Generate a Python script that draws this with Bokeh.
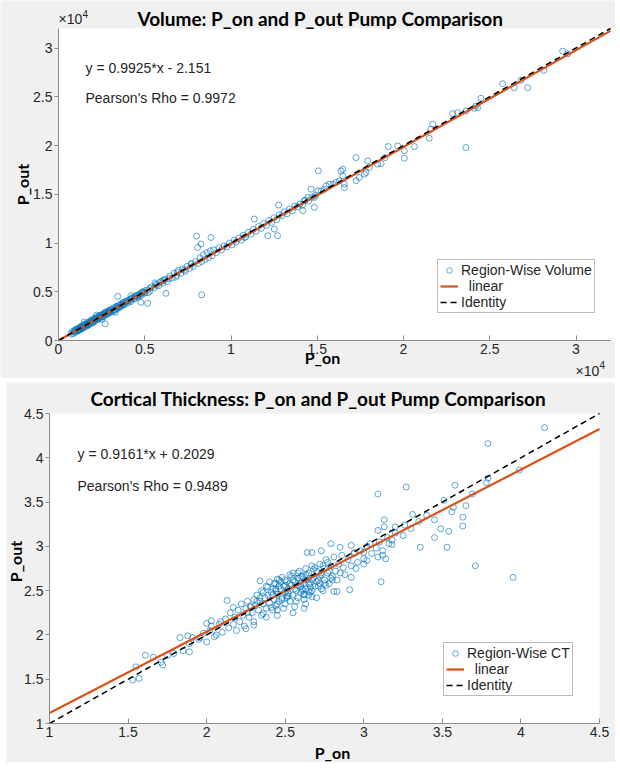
from bokeh.plotting import figure
from bokeh.models import Range1d, FixedTicker, Label, Legend, LegendItem, BoxAnnotation, Spacer
from bokeh.layouts import column, row
from bokeh.embed import file_html
from bokeh.resources import INLINE

# ---------------- Volume data (P_on vs P_out) ----------------
vol_on_a = [720, 780, 850, 900, 950, 1000, 1050, 1100, 1150, 1200, 1200, 1250, 1300, 1300, 1350, 1400, 1450, 1500, 1500, 1550,
            1600, 1600, 1650, 1700, 1750, 1750, 1800, 1850, 1900, 1950, 2000, 2000, 2050, 2100, 2100, 2150, 2200, 2200, 2250, 2300,
            2300, 2350, 2400, 2400, 2450, 2500, 2500, 2550, 2600, 2600, 2650, 2700, 2700, 2750, 2800, 2850, 2900, 2900, 2950, 3000, 3000]
vol_out_a = [650, 900, 700, 1000, 850, 1150, 900, 1200, 1000, 1300, 1100, 1100, 1450, 1250, 1200, 1350, 1600, 1350, 1900, 1700,
             1450, 1650, 1500, 1850, 1600, 1750, 1900, 1700, 2100, 1800, 2050, 1850, 2250, 1950, 2150, 2300, 2100, 2600, 2450, 2200,
             2350, 2500, 2250, 2450, 2600, 2400, 2150, 2700, 2450, 2650, 2800, 2600, 2800, 2950, 2700, 3000, 2750, 2950, 3100, 2900, 3050]

vol_on_b = [3100, 3150, 3200, 3200, 3300, 3300, 3350, 3400, 3400, 3500, 3550, 3600, 3600, 3700, 3750, 3800, 3800, 3900, 4000, 4000,
            4100, 4200, 4200, 4200, 4300, 4400, 4400, 4500, 4600, 4600, 4700, 4800, 4800, 4900, 5000, 5000, 5150, 5200, 5300, 5400,
            5550, 5600, 5650, 5800, 5900, 6050, 6100, 6200, 6300, 6450, 6600, 6700, 6800, 6850, 6950, 7100, 7200, 7350, 7450, 7600,
            7700, 7800, 7950]
vol_out_b = [3200, 2950, 3350, 3100, 3150, 2900, 3500, 3250, 3450, 3600, 3400, 3750, 3500, 3600, 3900, 3650, 3900, 4000, 3850, 4050,
             4200, 4000, 4250, 4600, 4400, 4250, 4450, 4600, 4450, 4600, 4750, 4650, 4850, 5000, 4850, 5100, 5200, 4900, 5050, 5500,
             5400, 5900, 5750, 5600, 6000, 5900, 6200, 6300, 6050, 6600, 6400, 6900, 6500, 6700, 7200, 6900, 7350, 7100, 7600, 7400,
             7900, 7600, 8100]

vol_on_c = [8100, 8200, 8300, 8400, 8500, 8600, 8700, 8800, 8900, 9000, 9150, 9300, 9450, 9600, 9750, 9900, 10050, 10200, 10300, 10450,
            10600, 10700, 10850, 11000, 11150, 11300, 11450, 11600, 11750, 11900, 12050, 12200, 12350, 12500, 12650, 12800, 12950,
            13100, 13250, 13400, 13550, 13700, 13850, 14000, 14150, 14300, 14500, 14700, 14900]
vol_out_c = [7900, 8500, 8100, 8800, 8300, 9000, 8500, 9200, 8700, 9300, 9000, 9500, 9300, 9700, 9600, 10000, 9800, 10300, 10100, 10500,
             10300, 10800, 10600, 11100, 10900, 11400, 11200, 11700, 11500, 12000, 11800, 12300, 12100, 12600, 12400, 12900, 12800,
             13200, 13000, 13500, 13300, 13800, 13700, 14000, 13900, 14400, 14300, 14700, 14900]

vol_on_d = [8000, 8840, 8300, 6230, 3430, 4780, 5170, 2710, 15060, 12760, 11350, 12510, 12700, 12130, 10770, 8070, 8260, 14830, 14830, 14250,
            23620, 22850, 23140, 23620, 24100, 24200, 21690, 21590, 21490, 20630, 20050, 20050, 19660, 19120, 18930, 18700, 18500,
            17920, 18020, 17830, 17730, 17250, 17250, 17440, 16380, 16480, 16480, 16570, 16570, 16280, 16090, 15900, 15700, 15510,
            15410, 15220, 15030, 14640, 14450, 14160, 29230, 29520, 28130, 27200, 26420, 25750, 26810, 24490, 24300]
vol_out_d = [10700, 10570, 4680, 4840, 4530, 3920, 3820, 1710, 17400, 13890, 12460, 11430, 10750, 10750, 10570, 9550, 9900, 14670, 13650, 14330,
             19790, 23270, 23370, 23540, 23820, 24050, 22180, 21670, 20750, 19890, 19450, 18700, 19960, 19890, 18760, 18150, 18090,
             18420, 17740, 17230, 17060, 18760, 16380, 16710, 17400, 17570, 16890, 16040, 15690, 16380, 16210, 16040, 16040, 15870,
             15520, 15350, 15350, 15520, 14670, 13310, 29680, 29410, 27710, 25930, 25930, 26340, 26680, 24840, 23880]

vol_on_e = [1100, 1250, 1400, 1550, 1700, 1850, 2000, 2150, 2300, 2450, 2600, 2750, 2900, 3050, 3200, 3350, 3500, 3650, 3800, 3950,
            4100, 4250, 4400, 4550, 4700, 4850, 5000, 5300, 5700, 6000, 6400, 6900, 7300, 7700, 900, 1000, 1150, 1350, 1650, 1950]
vol_out_e = [1050, 1350, 1300, 1600, 1650, 1950, 1900, 2200, 2250, 2550, 2500, 2800, 2850, 3150, 3100, 3450, 3400, 3700, 3750, 4050,
             4000, 4350, 4300, 4650, 4600, 4950, 4900, 5350, 5650, 6100, 6350, 7000, 7250, 7800, 850, 1050, 1100, 1450, 1600, 2050]

vol_slope, vol_intercept = 0.9925, -2.151
vol_rho = 0.9972
vol_limits = (0, 32000)
vol_line_x = [0, 32000]
vol_ticks = [0, 5000, 10000, 15000, 20000, 25000, 30000]
vol_tick_labels = ["0", "0.5", "1", "1.5", "2", "2.5", "3"]

# ---------------- Cortical thickness data ----------------
ct_on_a = [1.95, 1.98, 2.00, 2.02, 2.03, 2.05, 2.06, 2.08, 2.09, 2.10, 2.12, 2.14, 2.15, 2.17, 2.18, 2.19, 2.20, 2.21, 2.22, 2.23,
           2.24, 2.25, 2.26, 2.27, 2.28, 2.29, 2.30, 2.30, 2.31, 2.32, 2.33, 2.34, 2.35, 2.35, 2.36, 2.37, 2.38, 2.38, 2.39, 2.40]
ct_out_a = [1.95, 2.02, 1.92, 2.05, 2.10, 1.98, 2.00, 2.12, 2.15, 2.03, 2.18, 2.08, 2.25, 2.12, 2.20, 2.05, 2.28, 2.15, 2.35, 2.22,
            2.10, 2.30, 2.38, 2.20, 2.32, 2.25, 2.40, 2.15, 2.33, 2.45, 2.28, 2.38, 2.50, 2.22, 2.35, 2.42, 2.30, 2.55, 2.45, 2.36]

ct_on_b = [2.40, 2.41, 2.42, 2.42, 2.43, 2.44, 2.44, 2.45, 2.45, 2.46, 2.46, 2.47, 2.48, 2.48, 2.49, 2.50, 2.50, 2.51, 2.51, 2.52,
           2.53, 2.53, 2.54, 2.55, 2.55, 2.55, 2.56, 2.56, 2.57, 2.58, 2.58, 2.59, 2.60, 2.60, 2.61, 2.62, 2.62, 2.62, 2.63, 2.63]
ct_out_b = [2.60, 2.48, 2.28, 2.52, 2.40, 2.58, 2.33, 2.46, 2.22, 2.62, 2.38, 2.52, 2.42, 2.65, 2.55, 2.35, 2.48, 2.60, 2.42, 2.52,
            2.68, 2.38, 2.56, 2.45, 2.70, 2.25, 2.60, 2.32, 2.50, 2.64, 2.42, 2.72, 2.55, 2.48, 2.66, 2.40, 2.58, 2.30, 2.75, 2.52]

ct_on_c = [2.64, 2.65, 2.65, 2.66, 2.67, 2.67, 2.68, 2.69, 2.70, 2.70, 2.71, 2.72, 2.72, 2.73, 2.74, 2.75, 2.75, 2.76, 2.77, 2.78,
           2.79, 2.80, 2.81, 2.82, 2.83, 2.84, 2.85, 2.86, 2.87, 2.88, 2.90, 2.92, 2.94, 2.96, 2.98, 3.00, 3.02, 3.05, 3.08, 3.10,
           3.12, 3.15, 3.18, 3.20, 3.25, 3.30, 3.35, 3.40, 3.45]
ct_out_c = [2.62, 2.45, 2.70, 2.58, 2.78, 2.50, 2.65, 2.55, 2.72, 2.42, 2.62, 2.80, 2.58, 2.68, 2.50, 2.75, 2.62, 2.85, 2.70, 2.58,
            2.78, 2.66, 2.88, 2.72, 2.62, 2.80, 2.70, 2.90, 2.76, 2.68, 2.85, 2.78, 2.92, 2.82, 2.95, 2.86, 3.00, 2.92, 2.98, 3.05,
            2.95, 3.10, 3.02, 3.15, 3.12, 3.20, 3.28, 3.35, 3.30]

ct_on_d = [3.09, 3.27, 3.58, 3.69, 3.51, 3.56, 3.57, 3.63, 3.63, 3.65, 3.31, 3.13, 3.26, 3.20, 3.49, 3.54, 3.45, 3.36, 3.53, 3.71,
           3.95, 3.11, 2.91, 2.81, 2.83, 3.09, 3.14, 3.12, 3.16, 3.18, 3.13, 3.09, 3.04, 3.00, 2.95, 2.92, 3.02, 3.00, 2.79, 2.85,
           2.92, 2.94, 2.73, 2.67, 2.64, 2.62, 2.63, 2.67, 2.61, 2.73, 2.65, 3.79, 4.15, 3.78, 3.79, 3.99]
ct_out_d = [3.59, 3.67, 3.69, 3.59, 3.52, 3.39, 3.44, 3.33, 3.23, 3.46, 3.36, 3.30, 3.24, 3.22, 3.20, 3.17, 3.10, 2.99, 2.99, 2.78,
            2.65, 2.60, 2.51, 2.49, 2.49, 2.88, 2.86, 2.90, 3.03, 3.07, 3.22, 3.18, 3.03, 2.80, 2.75, 2.65, 2.84, 2.93, 3.03, 2.99,
            3.01, 2.93, 2.95, 2.93, 2.93, 2.45, 2.35, 2.43, 2.50, 2.52, 2.50, 4.16, 4.34, 3.72, 3.77, 3.86]

ct_on_e = [2.34, 2.13, 2.17, 2.00, 2.03, 1.96, 1.88, 1.91, 1.83, 1.89, 1.85, 1.79, 1.75, 1.89, 1.61, 1.66, 1.71, 1.72, 1.55, 1.53,
           1.57, 2.25, 2.30, 2.43, 2.39, 2.45, 2.36, 2.41, 2.45]
ct_out_e = [2.61, 2.39, 2.31, 2.13, 2.16, 1.97, 1.99, 1.97, 1.97, 1.90, 1.82, 1.79, 1.77, 1.81, 1.77, 1.75, 1.69, 1.66, 1.64, 1.49,
            1.51, 2.07, 2.11, 2.58, 2.54, 2.63, 2.24, 2.31, 2.28]

ct_on_f = [2.42, 2.44, 2.46, 2.48, 2.50, 2.52, 2.54, 2.56, 2.58, 2.60, 2.62, 2.64, 2.66, 2.68, 2.70, 2.72, 2.74, 2.76, 2.78, 2.80,
           2.45, 2.47, 2.49, 2.51, 2.53, 2.55, 2.57, 2.59, 2.61, 2.63, 2.65, 2.67, 2.69, 2.71, 2.73, 2.75, 2.77, 2.79,
           2.36, 2.38, 2.32, 2.28, 2.26, 2.34, 2.50, 2.58, 2.66, 2.44, 2.52, 2.60]
ct_out_f = [2.45, 2.50, 2.55, 2.40, 2.62, 2.47, 2.66, 2.52, 2.70, 2.58, 2.46, 2.68, 2.54, 2.74, 2.60, 2.66, 2.78, 2.56, 2.72, 2.62,
            2.35, 2.60, 2.30, 2.44, 2.58, 2.62, 2.38, 2.64, 2.52, 2.68, 2.58, 2.62, 2.76, 2.55, 2.70, 2.58, 2.82, 2.64,
            2.48, 2.20, 2.38, 2.32, 2.25, 2.42, 2.56, 2.56, 2.48, 2.52, 2.44, 2.66]

ct_slope, ct_intercept = 0.9161, 0.2029
ct_rho = 0.9489
ct_limits = (1, 4.5)
ct_line_x = [1, 4.5]
ct_ticks = [1, 1.5, 2, 2.5, 3, 3.5, 4, 4.5]
ct_tick_labels = ["1", "1.5", "2", "2.5", "3", "3.5", "4", "4.5"]

# ---------------- styling ----------------
TICK_FONT = "Liberation Sans"
TITLE_FONT = "Lato"
BLUE = "#0072BD"
ORANGE = "#D95319"
AXIS_COL = "#8c8c8c"
TEXT_COL = "#262626"
PANEL = "#f0f0f0"


def pixel_range(lo, hi, px_lo, px_hi, total):
    """Range whose [lo, hi] maps onto pixels [px_lo, px_hi] of a canvas `total` px long."""
    k = (px_hi - px_lo) / (hi - lo)
    return Range1d(lo - px_lo / k, hi + (total - px_hi) / k)


def add_text(p, sx, sy, text, size="14px", font=TICK_FONT, style="normal", align="left",
             angle=0.0, baseline="middle", color=TEXT_COL):
    p.add_layout(Label(x=sx, y=sy, x_units="screen", y_units="screen", text=text,
                       text_font=font, text_font_size=size, text_font_style=style,
                       text_color=color, text_align=align, text_baseline=baseline, angle=angle))


def build(width, height, box, limits, on_groups, out_groups, slope, intercept, line_x,
          ticks, tick_labels, scatter_label, legend_loc, white_right):
    # box = (left, right, top, bottom) of the axes in canvas pixels (from top-left)
    lo, hi = limits
    p = figure(width=width, height=height,
               x_range=pixel_range(lo, hi, box[0], box[1], width),
               y_range=pixel_range(lo, hi, height - box[3], height - box[2], height),
               output_backend="svg", toolbar_location=None, title_location=None,
               min_border=0, min_border_left=0, min_border_right=0, min_border_top=0, min_border_bottom=0)
    p.background_fill_color = PANEL
    p.border_fill_color = PANEL
    p.outline_line_color = None
    p.xgrid.visible = False
    p.ygrid.visible = False
    p.add_layout(BoxAnnotation(left=lo, right=white_right, bottom=lo, top=hi, fill_color="white",
                               fill_alpha=1.0, line_color=None, level="underlay"))

    overrides = {t: l for t, l in zip(ticks, tick_labels)}
    for ax in (p.xaxis[0], p.yaxis[0]):
        ax.fixed_location = lo
        ax.bounds = (lo, hi)
        ax.ticker = FixedTicker(ticks=ticks)
        ax.major_label_overrides = overrides
        ax.minor_tick_line_color = None
        ax.axis_line_color = AXIS_COL
        ax.major_tick_line_color = AXIS_COL
        ax.major_label_text_font = TICK_FONT
        ax.major_label_text_font_size = "14px"
        ax.major_label_text_color = TEXT_COL
    p.xaxis.major_tick_in = 5
    p.xaxis.major_tick_out = 0
    p.xaxis.major_label_standoff = 3
    p.yaxis.major_tick_in = 0
    p.yaxis.major_tick_out = 4
    p.yaxis.major_label_standoff = 2

    xs = [v for g in on_groups for v in g]
    ys = [v for g in out_groups for v in g]
    sc = p.scatter(xs, ys, marker="circle", size=6, fill_color=None,
                   line_color=BLUE, line_alpha=0.7, line_width=0.9)
    fit_y = [slope * x + intercept for x in line_x]
    fit = p.line(line_x, fit_y, line_color=ORANGE, line_width=2.2)
    ident = p.line(line_x, line_x, line_color="black", line_width=1.5, line_dash="6 4")
    legend = Legend(items=[LegendItem(label=scatter_label, renderers=[sc]),
                           LegendItem(label="\u00a0\u00a0linear", renderers=[fit]),
                           LegendItem(label="Identity", renderers=[ident])],
                    location=legend_loc, orientation="vertical",
                    label_text_font=TICK_FONT, label_text_font_size="14px", label_text_color=TEXT_COL,
                    label_height=14, glyph_height=14, glyph_width=18, label_standoff=3,
                    padding=2, spacing=0, margin=0,
                    border_line_color="#7a7a7a", border_line_width=1,
                    background_fill_color="white", background_fill_alpha=1.0)
    p.add_layout(legend)
    return p


# ---- top: volume (canvas 615 x 378 at page 0,0) ----
H1 = 378
p1 = build(615, H1, (58, 610, 28, 340), vol_limits, [vol_on_a, vol_on_b, vol_on_c, vol_on_d, vol_on_e],
           [vol_out_a, vol_out_b, vol_out_c, vol_out_d, vol_out_e], vol_slope, vol_intercept, vol_line_x,
           vol_ticks, vol_tick_labels, "Region-Wise Volume", (437, H1 - 313), None)
add_text(p1, 137, H1 - 18, "Volume: P_on and P_out Pump Comparison", size="19px", font=TITLE_FONT,
         style="bold", color="black")
add_text(p1, 22, H1 - 184, "P_out", size="16px", font=TITLE_FONT, style="bold", align="center",
         angle=1.5708, color="black")
add_text(p1, 322, H1 - 357, "P_on", size="16px", font=TITLE_FONT, style="bold", align="center", color="black")
add_text(p1, 58, H1 - 18, "\u00d710")
add_text(p1, 82, H1 - 13, "4", size="10px")
add_text(p1, 575, H1 - 370, "\u00d710")
add_text(p1, 599, H1 - 364, "4", size="10px")
add_text(p1, 85, H1 - 67, "y = %.4f*x - %.3f" % (vol_slope, -vol_intercept))
add_text(p1, 85, H1 - 97, "Pearson's Rho = %.4f" % vol_rho)

# ---- bottom: cortical thickness (canvas 609 x 380 at page 6,382) ----
H2 = 380
X0, Y0 = 6, 382
p2 = build(609, H2, (49 - X0, 599 - X0, 413 - Y0, 723 - Y0), ct_limits,
           [ct_on_a, ct_on_b, ct_on_c, ct_on_d, ct_on_e, ct_on_f],
           [ct_out_a, ct_out_b, ct_out_c, ct_out_d, ct_out_e, ct_out_f], ct_slope, ct_intercept, ct_line_x,
           ct_ticks, ct_tick_labels, "Region-Wise CT", (443 - X0, Y0 + H2 - 696), ct_limits[1])
add_text(p2, 90 - X0, Y0 + H2 - 398, "Cortical Thickness: P_on and P_out Pump Comparison", size="19px",
         font=TITLE_FONT, style="bold", color="black")
add_text(p2, 15 - X0, Y0 + H2 - 561, "P_out", size="16px", font=TITLE_FONT, style="bold", align="center",
         angle=1.5708, color="black")
add_text(p2, 332 - X0, Y0 + H2 - 752, "P_on", size="16px", font=TITLE_FONT, style="bold", align="center",
         color="black")
add_text(p2, 77 - X0, Y0 + H2 - 453, "y = %.4f*x + %.4f" % (ct_slope, ct_intercept))
add_text(p2, 77 - X0, Y0 + H2 - 485, "Pearson's Rho = %.4f" % ct_rho)

layout = column(p1, row(Spacer(width=X0, height=H2), p2, spacing=0), spacing=Y0 - H1)
open("out.html", "w").write(file_html(layout, INLINE))
